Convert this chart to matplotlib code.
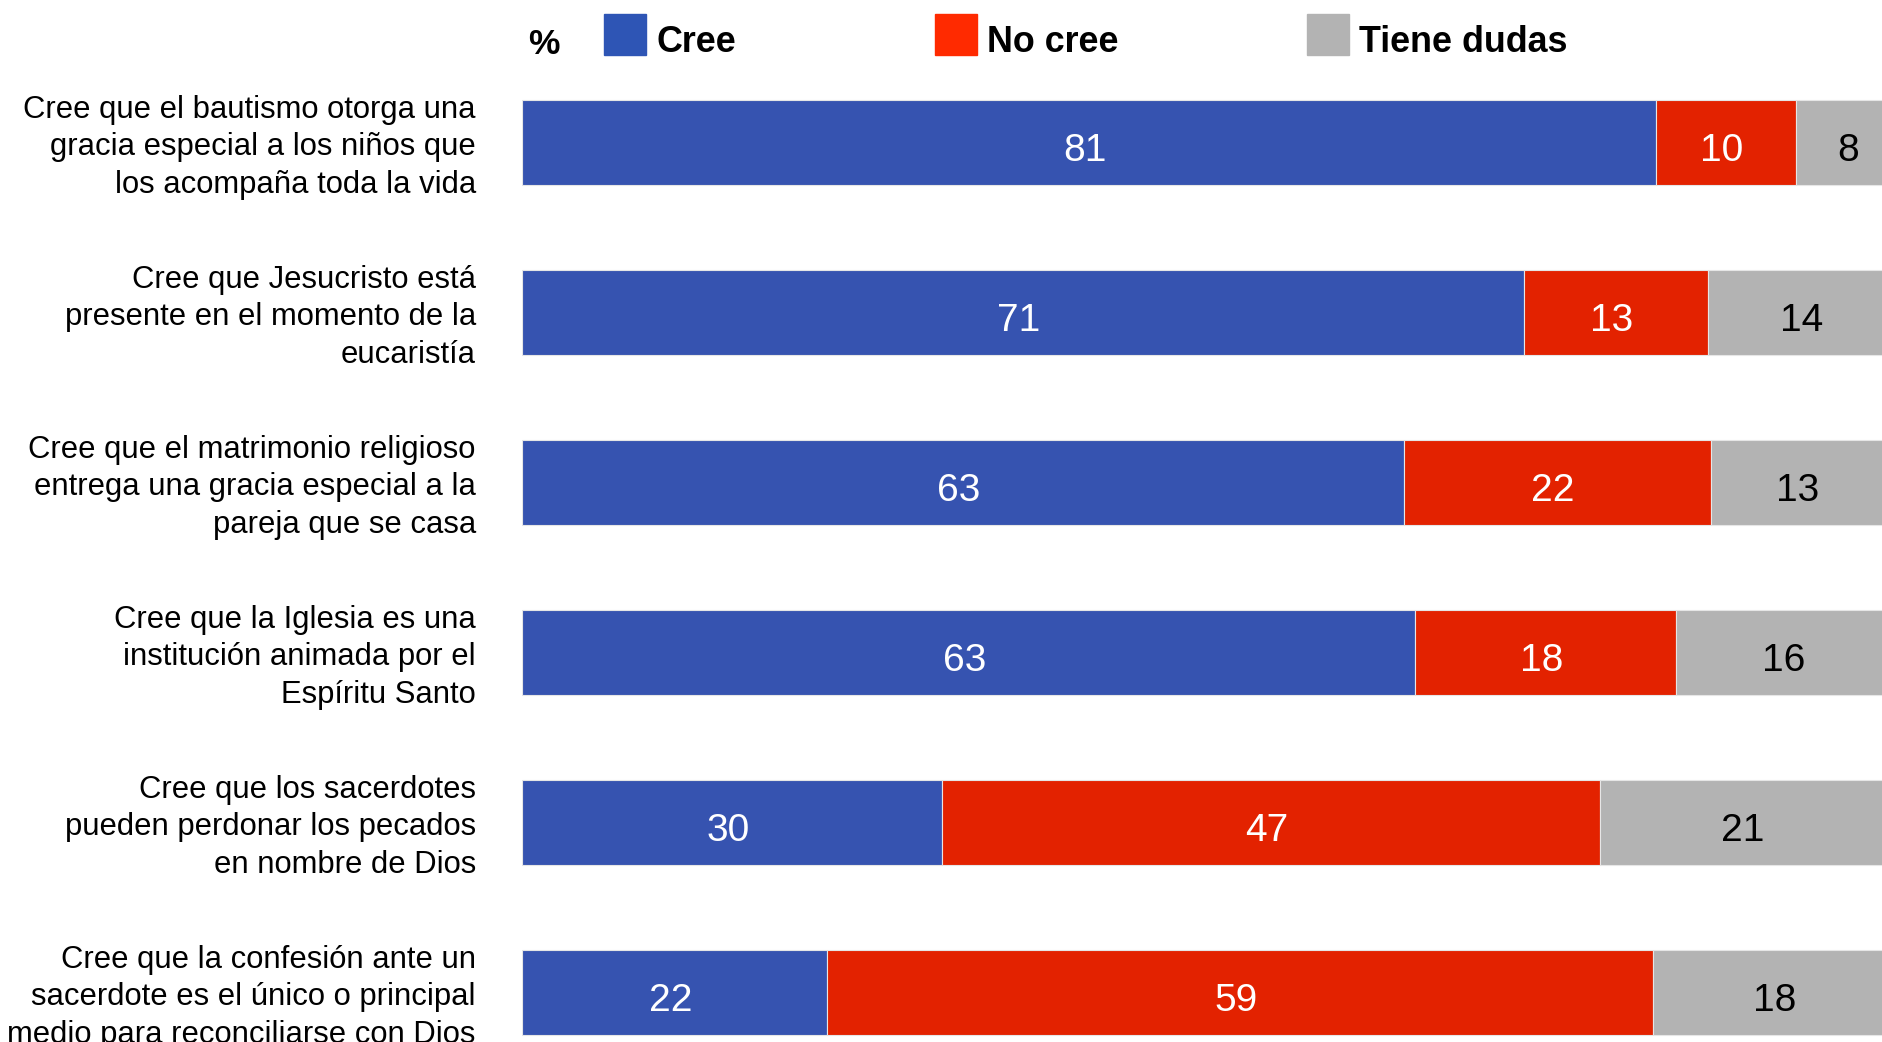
import matplotlib.pyplot as plt
from matplotlib.patches import Rectangle

plt.rcParams['font.family'] = ['Liberation Sans', 'DejaVu Sans']

categories = [
    "Cree que el bautismo otorga una\ngracia especial a los niños que\nlos acompaña toda la vida",
    "Cree que Jesucristo está\npresente en el momento de la\neucaristía",
    "Cree que el matrimonio religioso\nentrega una gracia especial a la\npareja que se casa",
    "Cree que la Iglesia es una\ninstitución animada por el\nEspíritu Santo",
    "Cree que los sacerdotes\npueden perdonar los pecados\nen nombre de Dios",
    "Cree que la confesión ante un\nsacerdote es el único o principal\nmedio para reconciliarse con Dios",
]
# segment lengths, labels as printed
cree = [81, 71.6, 63, 63.8, 30, 21.8]
no_cree = [10, 13.1, 21.9, 18.6, 47, 59]
dudas = [8, 14, 13, 16, 21, 18]
cree_lbl = ["81", "71", "63", "63", "30", "22"]
no_lbl = ["10", "13", "22", "18", "47", "59"]
dudas_lbl = ["8", "14", "13", "16", "21", "18"]

series = ["Cree", "No cree", "Tiene dudas"]
bar_colors = ["#3653B0", "#E32200", "#B3B3B3"]
legend_colors = ["#2E55B5", "#FF2A00", "#B3B3B3"]
text_colors = ["white", "white", "black"]

W, H = 1883, 1042
fig = plt.figure(figsize=(W / 100, H / 100), dpi=100)
ax = fig.add_axes([522 / W, 0, 1 - 522 / W, 1])

y = list(range(len(categories)))
left = [0] * len(categories)
for vals, lbls, col, tcol in zip([cree, no_cree, dudas],
                                 [cree_lbl, no_lbl, dudas_lbl],
                                 bar_colors, text_colors):
    ax.barh(y, vals, left=left, height=0.5, color=col,
            edgecolor="#E6E6E6", linewidth=0.8)
    for yi, l, v, t in zip(y, left, vals, lbls):
        ax.text(l + v / 2 - 0.3, yi + 0.055, t, ha="center", va="center",
                color=tcol, fontsize=28)
    left = [a + b for a, b in zip(left, vals)]

# category labels to the left of the bars
for yi, cat in zip(y, categories):
    ax.text(-3.3, yi + 0.03, cat, ha="right", va="center", fontsize=22.3,
            linespacing=1.33, clip_on=False)

ax.set_xlim(0, (W - 522) / 14.0)
ax.set_ylim((H - 142) / 170, -142 / 170)
ax.axis("off")

# legend across the top
fig.text(528 / W, 1 - 45 / H, "%", fontsize=25.5, fontweight="bold",
         va="center", ha="left")
patch_x = [604, 935, 1307]
for px, name, col in zip(patch_x, series, legend_colors):
    fig.patches.append(Rectangle((px / W, 1 - 55 / H), 42 / W, 41 / H,
                                 color=col, transform=fig.transFigure))
    fig.text((px + 52) / W, 1 - 43 / H, name, fontsize=25.8, fontweight="bold",
             va="center", ha="left")

fig.savefig("out.png", dpi=100)
